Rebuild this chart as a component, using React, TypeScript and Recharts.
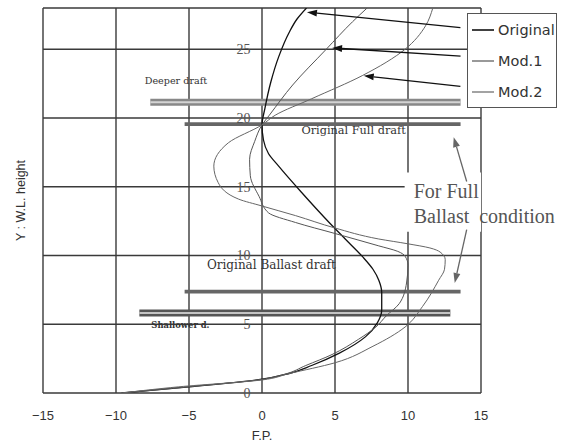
import React from 'react';
import { LineChart, Line, XAxis, YAxis, CartesianGrid, ReferenceLine, ReferenceArea, ReferenceDot, Legend } from 'recharts';

const X_TICKS = [-15, -10, -5, 0, 5, 10, 15];
const Y_TICKS = [0, 5, 10, 15, 20, 25];
const Y_TOP = 28;

const SERIES_NAMES = ['Original', 'Mod.1', 'Mod.2'];

// stem profiles, listed from keel (y = 0) upwards
const originalPts: [number, number][] = [
    [-9.6, 0], [-5, 0.45], [0, 1.0], [1.8, 1.4], [3.4, 2.0], [5.3, 2.9], [7.1, 4.1], [7.9, 5.1],
    [8.2, 6.05], [8.2, 7.3], [8.0, 8.2], [7.6, 9.0], [6.9, 9.9], [5.7, 11.2], [4.6, 12.4], [2.7, 14.6],
    [1.14, 16.5], [0.45, 17.4], [0.1, 18.4], [0, 19.5], [0.2, 20.7], [0.6, 22.6], [1.16, 24.5],
    [1.85, 26.2], [2.4, 27.2], [3.05, 28],
];
const mod1Pts: [number, number][] = [
    [-9.6, 0], [-5, 0.45], [0, 1.0], [1.5, 1.35], [3, 2], [4.8, 2.8], [6.6, 3.9], [7.8, 4.8],
    [8.5, 5.6], [9.4, 6.5], [9.9, 8], [10, 9.3], [9.8, 9.95], [9.3, 10.3], [8, 10.7], [5, 11.6],
    [2.3, 12.4], [0.45, 13.1], [-0.2, 14.3], [-0.8, 15.8], [-0.85, 17], [-0.5, 18.3], [0, 19.5],
    [0.5, 20.2], [2.1, 22.4], [4.4, 25], [6.2, 27], [7.2, 28],
];
const mod2Pts: [number, number][] = [
    [-9.6, 0], [-5.7, 0.45], [0, 0.95], [1.8, 1.4], [5, 2.2], [7.6, 3.4], [9.8, 4.8], [11, 6.3],
    [12.1, 8.2], [12.5, 9.0], [12.55, 9.7], [12.2, 10.25], [11.5, 10.55], [10, 10.85], [8, 11.2],
    [5, 12], [2.3, 12.9], [0, 13.6], [-1.6, 14.1], [-3, 15.3], [-3.3, 16.5], [-2.3, 18.2], [0, 19.5],
    [0.9, 20.2], [3.4, 21.4], [6.9, 23.1], [9.8, 25], [11.2, 26.7], [11.7, 28],
];

// draft levels: [y, xStart, xEnd]
const fullDraft = [19.55, -5.3, 13.6];
const deeperDraft = [21.15, -7.65, 13.6];
const ballastDraft = [7.37, -5.3, 13.6];
const shallowDraft = [5.82, -8.4, 12.9];

const toRows = (pts: [number, number][]) => pts.map(([x, y]) => ({ x, y }));

const SERIF = '"DejaVu Serif", "Liberation Serif", serif';
const SANS = '"Liberation Sans", Arial, sans-serif';

const arrowShape = (color: string) => (p: any) => {
    const { x1, y1, x2, y2 } = p;
    const a = Math.atan2(y2 - y1, x2 - x1);
    const len = 10;
    const w = 3.5;
    const bx = x2 - len * Math.cos(a);
    const by = y2 - len * Math.sin(a);
    const pts = `${x2},${y2} ${bx + w * Math.sin(a)},${by - w * Math.cos(a)} ${bx - w * Math.sin(a)},${by + w * Math.cos(a)}`;
    return (
        <g>
            <line x1={x1} y1={y1} x2={bx} y2={by} stroke={color} strokeWidth={1.3} />
            <polygon points={pts} fill={color} />
        </g>
    );
};

const seg = (y: number, a: number, b: number) => [{ x: a, y }, { x: b, y }];

const textDot = (key: string, x: number, y: number, value: string, style: any, position: any = 'right', offset = 0) => (
    <ReferenceDot
        key={key}
        x={x}
        y={y}
        r={0}
        fill="none"
        stroke="none"
        ifOverflow="visible"
        label={{ value, position, offset, ...style }}
    />
);

const EmptyTick = () => <g />;

const lineColors = ['#111', '#555', '#666'];

const renderLegend = () => (
    <div style={{ position: 'relative', width: 90, height: 95, border: '1px solid #555', background: '#fff', boxSizing: 'border-box' }}>
        {SERIES_NAMES.map((n, i) => (
            <div key={n} style={{ position: 'absolute', left: 4, top: 16 + i * 31.2 - 9, height: 18, display: 'flex', alignItems: 'center', fontFamily: '"DejaVu Sans", sans-serif', fontSize: 14.5, color: '#333', whiteSpace: 'nowrap' }}>
                <svg width={22} height={4} style={{ display: 'block' }}>
                    <line x1={0} y1={2} x2={22} y2={2} stroke={lineColors[i]} strokeWidth={i === 0 ? 1.6 : 1.2} />
                </svg>
                <span style={{ marginLeft: 4 }}>{n}</span>
            </div>
        ))}
    </div>
);

export default function App() {
    const smallSerif = { fill: '#333', fontFamily: SERIF };
    return (
        <div style={{ position: 'absolute', left: 0, top: 0, width: 569, height: 443, background: '#fff' }}>
            <LineChart width={569} height={443} margin={{ top: 8, right: 88, left: 0, bottom: 0 }}>
                <CartesianGrid stroke="#3a3a3a" strokeWidth={1.4} horizontalValues={Y_TICKS} verticalValues={X_TICKS} />
                <XAxis
                    type="number"
                    dataKey="x"
                    domain={[-15, 15]}
                    ticks={X_TICKS}
                    allowDataOverflow
                    axisLine={false}
                    tickLine={false}
                    tickMargin={12}
                    height={50}
                    tickFormatter={(v: number) => String(v).replace('-', '\u2212')}
                    tick={{ fill: '#333', fontSize: 13, fontFamily: SANS }}
                    label={{ value: 'F.P.', position: 'insideBottom', offset: 3, fill: '#333', fontSize: 13, fontFamily: SANS }}
                />
                <YAxis
                    type="number"
                    dataKey="y"
                    domain={[0, Y_TOP]}
                    ticks={Y_TICKS}
                    allowDataOverflow
                    axisLine={false}
                    tickLine={false}
                    tick={EmptyTick}
                    width={43}
                    label={{ value: 'Y : W.L. height', angle: -90, position: 'center', dx: -1, fill: '#333', fontSize: 12.5, fontFamily: SANS }}
                />
                <ReferenceLine y={Y_TOP} stroke="#3a3a3a" strokeWidth={1.4} />
                <ReferenceArea x1={9.77} x2={15} y1={11.73} y2={16.04} fill="#fff" fillOpacity={1} stroke="none" />

                <ReferenceLine segment={seg(deeperDraft[0], deeperDraft[1], deeperDraft[2])} stroke="#888" strokeWidth={7} />
                <ReferenceLine segment={seg(deeperDraft[0], deeperDraft[1], deeperDraft[2])} stroke="#d4d4d4" strokeWidth={2} />
                <ReferenceLine segment={seg(shallowDraft[0], shallowDraft[1], shallowDraft[2])} stroke="#555" strokeWidth={7} />
                <ReferenceLine segment={seg(shallowDraft[0], shallowDraft[1], shallowDraft[2])} stroke="#c4c4c4" strokeWidth={2} />
                <ReferenceLine segment={seg(fullDraft[0], fullDraft[1], fullDraft[2])} stroke="#666" strokeWidth={3.8} />
                <ReferenceLine segment={seg(ballastDraft[0], ballastDraft[1], ballastDraft[2])} stroke="#666" strokeWidth={3.8} />

                <Line name={SERIES_NAMES[0]} data={toRows(originalPts)} dataKey="y" type="monotoneY" stroke={lineColors[0]} strokeWidth={1.3} dot={false} isAnimationActive={false} />
                <Line name={SERIES_NAMES[1]} data={toRows(mod1Pts)} dataKey="y" type="monotoneY" stroke={lineColors[1]} strokeWidth={1} dot={false} isAnimationActive={false} />
                <Line name={SERIES_NAMES[2]} data={toRows(mod2Pts)} dataKey="y" type="monotoneY" stroke={lineColors[2]} strokeWidth={1} dot={false} isAnimationActive={false} />

                {/* legend arrows */}
                <ReferenceLine segment={[{ x: 13.59, y: 26.57 }, { x: 3.08, y: 27.7 }]} shape={arrowShape('#111')} />
                <ReferenceLine segment={[{ x: 13.6, y: 24.5 }, { x: 4.8, y: 25.1 }]} shape={arrowShape('#111')} />
                <ReferenceLine segment={[{ x: 13.59, y: 22.3 }, { x: 6.97, y: 23.07 }]} shape={arrowShape('#111')} />
                {/* condition arrows */}
                <ReferenceLine segment={[{ x: 14.02, y: 15.38 }, { x: 13.13, y: 18.6 }]} shape={arrowShape('#666')} />
                <ReferenceLine segment={[{ x: 14.02, y: 11.88 }, { x: 13.2, y: 8.0 }]} shape={arrowShape('#666')} />

                {Y_TICKS.map((t) => textDot(`yt${t}`, 0, t, String(t), { fill: '#555', fontSize: 14, fontFamily: '"Liberation Serif", serif' }, 'left', 11.5))}

                {textDot('deeper', -8.03, 22.7, 'Deeper draft', { ...smallSerif, fontSize: 9.6 })}
                {textDot('full', 2.7, 19.1, 'Original Full draft', { ...smallSerif, fontSize: 11.3 })}
                {textDot('ballast', -3.77, 9.32, 'Original Ballast draft', { ...smallSerif, fontSize: 12 })}
                {textDot('shallow', -7.58, 4.94, 'Shallower d.', { ...smallSerif, fontSize: 8.4, fontWeight: 'bold' })}
                {textDot('forfull', 10.39, 14.67, 'For Full', { fill: '#555', fontSize: 20, fontFamily: '"Liberation Serif", serif' })}
                {textDot('ballastc', 10.39, 12.85, 'Ballast\u00a0 condition', { fill: '#555', fontSize: 20, fontFamily: '"Liberation Serif", serif' })}

                <Legend
                    layout="vertical"
                    align="center"
                    verticalAlign="middle"
                    content={renderLegend}
                    wrapperStyle={{ left: 467, top: 13, width: 90, height: 95 }}
                />
            </LineChart>
        </div>
    );
}
